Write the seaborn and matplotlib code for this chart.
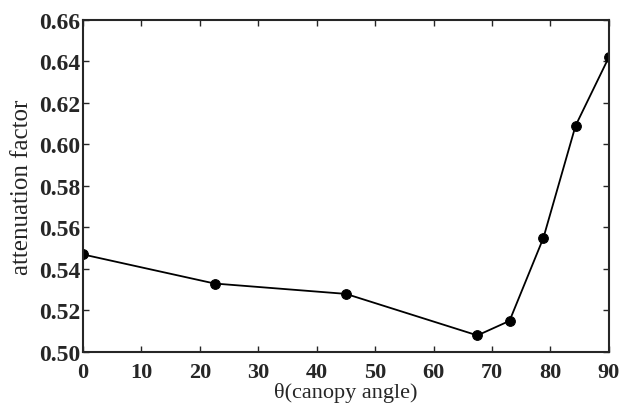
import matplotlib
matplotlib.use("Agg")
import matplotlib.pyplot as plt
import seaborn as sns
import pandas as pd

# datos
angulo = [0, 22.5, 45, 67.5, 73, 78.8, 84.3, 90]
atenuacion = [0.547, 0.533, 0.528, 0.508, 0.515, 0.555, 0.609, 0.642]
xticks = [0, 10, 20, 30, 40, 50, 60, 70, 80, 90]
yticks = [0.50, 0.52, 0.54, 0.56, 0.58, 0.60, 0.62, 0.64, 0.66]

df = pd.DataFrame({"theta": angulo, "att": atenuacion})

sns.set_style("ticks")
plt.rcParams['font.family'] = ['Liberation Serif', 'DejaVu Serif']

fig = plt.figure(figsize=(6.2, 4.1), dpi=100)
ax = fig.add_axes([0.134, 0.139, 0.848, 0.810])

sns.lineplot(data=df, x="theta", y="att", ax=ax, color="black",
             linewidth=1.3, marker="o", markersize=7, markeredgecolor="black")

ax.set_xlim(0, 90)
ax.set_ylim(0.50, 0.66)
ax.set_xticks(xticks)
ax.set_yticks(yticks)
ax.set_xticklabels([str(t) for t in xticks], fontsize=16, fontweight="bold")
ax.set_yticklabels([f"{t:.2f}" for t in yticks], fontsize=17, fontweight="bold")
ax.tick_params(direction="in", top=True, right=True, length=4, width=1)
ax.tick_params(axis="x", pad=7)
ax.tick_params(axis="y", pad=2)

for s in ax.spines.values():
    s.set_linewidth(1.5)
    s.set_visible(True)

ax.set_xlabel("θ(canopy angle)", fontsize=16, labelpad=0)
ax.set_ylabel("attenuation factor", fontsize=18, labelpad=4)

fig.savefig("out.png", dpi=100)
